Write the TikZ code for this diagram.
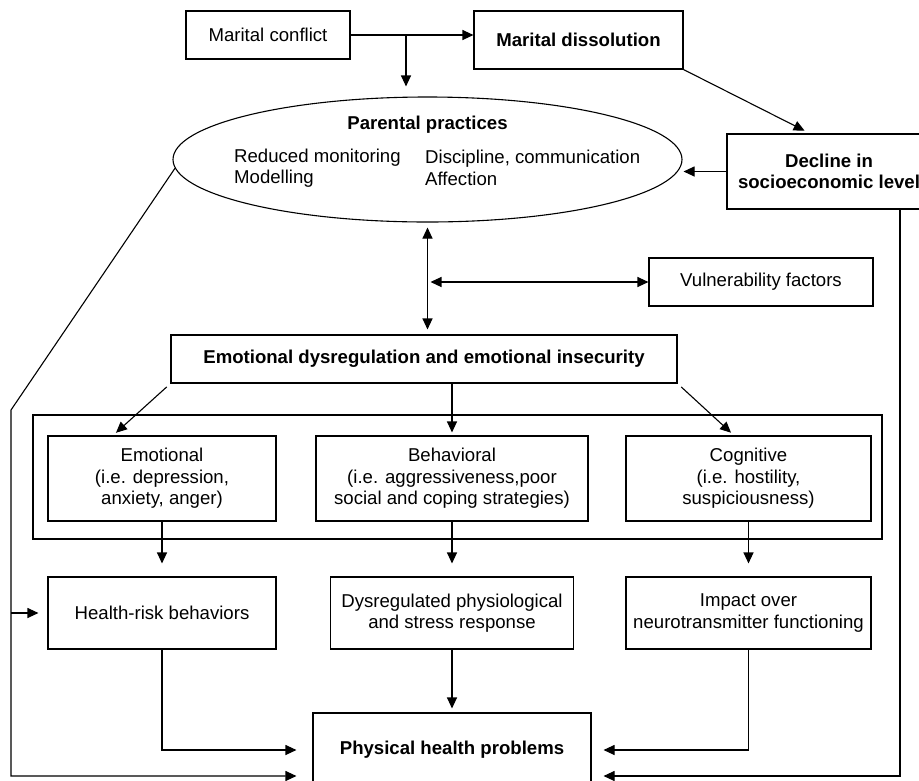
\documentclass[tikz,border=0pt]{standalone}
\usepackage{fontspec}
\setmainfont{Liberation Sans}
\usetikzlibrary{shapes.geometric,arrows.meta,calc}

\begin{document}
\begin{tikzpicture}
      [x=1pt,y=-1pt,
       every node/.style={font=\fontsize{18.6}{21.5}\selectfont,align=center,inner sep=0pt},
       boldtext/.style={font=\fontsize{18.6}{21.5}\selectfont\bfseries},
       box/.style={draw,line width=1.1pt,minimum height=48pt},
       arr/.style={line width=1.1pt,-{Triangle[length=11pt,width=10pt]}},
       dblarr/.style={line width=1.1pt,{Triangle[length=11pt,width=10pt]}-{Triangle[length=11pt,width=10pt]}}]
      \useasboundingbox (0,0) rectangle (919,780);

      \node [box,minimum width=164pt] (conflict) at (268,35) {Marital conflict};
      \node [box,boldtext,minimum width=209pt,minimum height=58pt] (dissolution) at (578.5,40) {Marital dissolution};
      \node [draw,ellipse,line width=1.1pt,minimum width=509pt,minimum height=125pt] (pp) at (427.5,159.5) {};
      \node [boldtext] (pptitle) at (427.5,125) {Parental practices};
      \node [anchor=west,align=left] (ppleft) at (234,168) {Reduced monitoring\\Modelling};
      \node [anchor=west,align=left] (ppright) at (425,168) {Discipline, communication\\Affection};
      \node [box,boldtext,minimum width=204pt,minimum height=75pt] (decline) at (829,171.5) {Decline in\\socioeconomic level};
      \node [box,minimum width=224pt] (vuln) at (761,282) {Vulnerability factors};
      \node [box,boldtext,minimum width=506pt,minimum height=48pt] (emodys) at (424,359) {Emotional dysregulation and emotional insecurity};

      \draw [line width=2.2pt] (33,415) rectangle (882,539);
      \node [box,minimum width=228pt,minimum height=85pt] (emo) at (162,478.5) {Emotional\\(i.e. depression,\\anxiety, anger)};
      \node [box,minimum width=272pt,minimum height=85pt] (beh) at (452,478.5) {Behavioral\\(i.e. aggressiveness,poor\\social and coping strategies)};
      \node [box,minimum width=245pt,minimum height=85pt] (cog) at (748.5,478.5) {Cognitive\\(i.e. hostility,\\suspiciousness)};

      \node [box,minimum width=228pt,minimum height=72pt] (risk) at (162,613) {Health-risk behaviors};
      \node [box,minimum width=243pt,minimum height=72pt] (dysphys) at (452,613) {Dysregulated physiological\\and stress response};
      \node [box,minimum width=245pt,minimum height=72pt] (impact) at (748.5,613) {Impact over\\neurotransmitter functioning};
      \node [box,boldtext,minimum width=278pt,minimum height=74pt] (phys) at (452,750) {Physical health problems};

      \coordinate (split) at (406,35);
      \coordinate (lc) at (11,410);
      \coordinate (rc) at (900,776);

      \draw [arr] (conflict.east |- split) -- (split -| dissolution.west);
      \draw [arr,shorten >=10pt] (split) -- (split |- pp.north);
      \draw [arr,shorten >=6pt] (dissolution.south east) -- ($(decline.north)+(-19,0)$);
      \draw [arr,shorten >=1pt] (decline.west) -- (pp.east |- decline.west);
      \draw [dblarr,shorten <=5pt,shorten >=5pt] (pp.south) -- (pp.south |- emodys.north);
      \draw [dblarr,shorten <=3pt] (pp.south |- vuln.west) -- (vuln.west);

      \draw [arr,shorten <=5pt,shorten >=4pt] (emodys.south west) -- ($(emo.north)+(-49,0)$);
      \draw [arr,shorten >=3pt] (beh.north |- emodys.south) -- (beh.north);
      \draw [arr,shorten <=5pt,shorten >=4pt] (emodys.south east) -- ($(cog.north)+(-14.5,0)$);

      \foreach \from/\to in {emo/risk, beh/dysphys, cog/impact}
      \draw [arr,shorten >=13pt] (\from) -- (\to);

      \draw [arr,shorten >=16pt] (risk.south) |- (phys.west);
      \draw [arr,shorten >=4pt] (dysphys) -- (phys);
      \draw [arr,shorten >=12pt] (impact.south) |- (phys.east);

      \draw [arr,shorten >=16pt] (pp.182) -- (lc) |- (rc -| phys.west);
      \draw [arr,shorten >=9pt] (lc |- risk.west) -- (risk.west);
      \draw [arr,shorten >=12pt] (decline.south -| rc) -- (rc) -- (rc -| phys.east);
    \end{tikzpicture}
\end{document}
